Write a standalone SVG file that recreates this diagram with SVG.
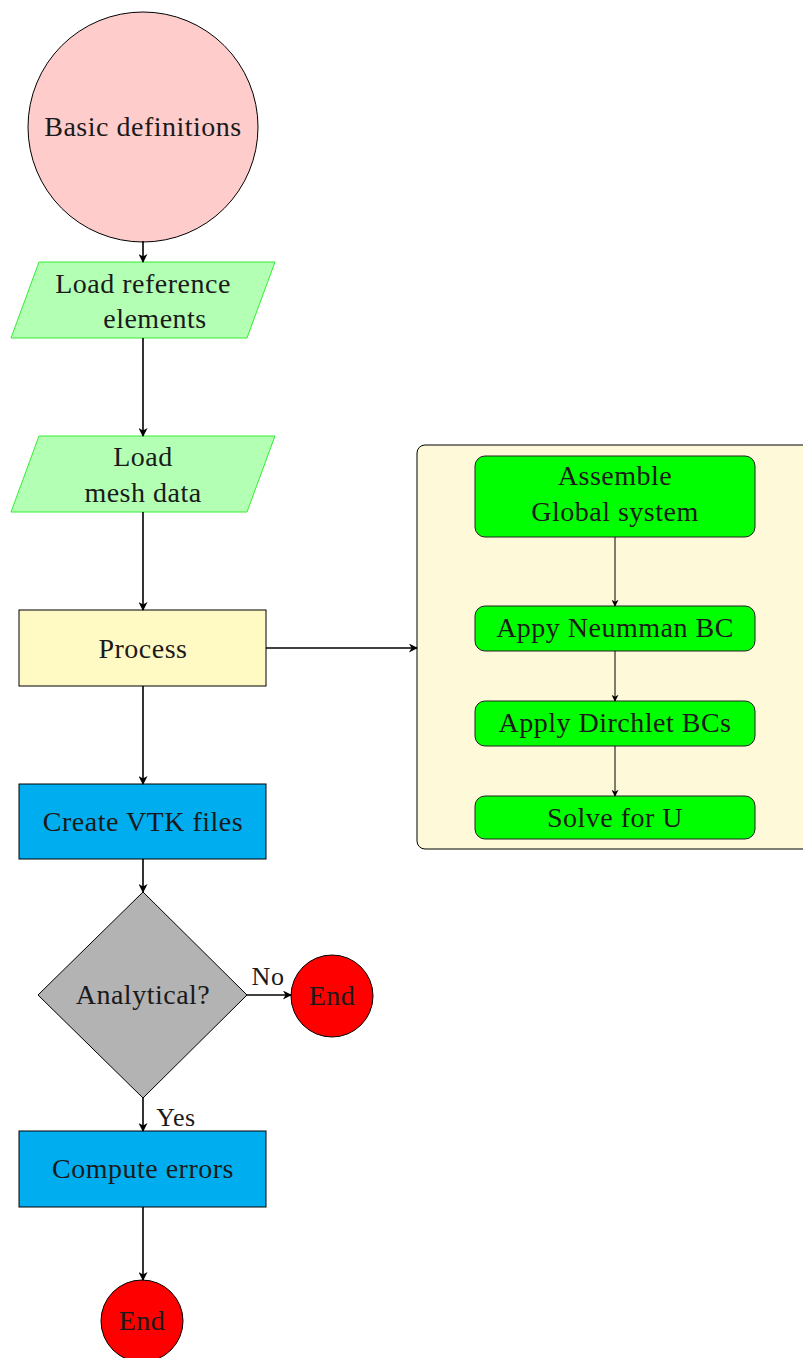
<svg xmlns="http://www.w3.org/2000/svg" width="803" height="1358" viewBox="0 0 803 1358">
<style>
text{font-family:"Liberation Serif","DejaVu Serif",serif;font-size:28px;letter-spacing:0.5px;fill:#1a1a1a;text-anchor:middle;}
.sm{font-size:26px;}
.blk{stroke:#000;stroke-width:1;}
.io{fill:#b3ffb3;stroke:#33ee33;stroke-width:1;}
.gr{fill:#00ff00;stroke:#222;stroke-width:1;}
.cn{stroke:#000;stroke-width:1.6;fill:none;marker-end:url(#ah);}
.cs{stroke:#000;stroke-width:1;fill:none;marker-end:url(#as);}
</style>
<defs>
<marker id="ah" viewBox="0 0 10 10" refX="9" refY="5" markerWidth="10" markerHeight="9" markerUnits="userSpaceOnUse" orient="auto"><path d="M0,0 L10,5 L0,10 L3,5 Z" fill="#000"/></marker>
<marker id="as" viewBox="0 0 10 10" refX="9" refY="5" markerWidth="8" markerHeight="7" markerUnits="userSpaceOnUse" orient="auto"><path d="M0,0 L10,5 L0,10 L3,5 Z" fill="#000"/></marker>
</defs>
<g id="basic"><circle cx="143" cy="127" r="115" fill="#ffcccc" class="blk"/><text x="143" y="136">Basic definitions</text></g>
<g id="loadref"><polygon class="io" points="39,262 275,262 247,338 11,338"/><text x="143" y="293">Load reference</text><text x="155" y="328">elements</text></g>
<g id="loadmesh"><polygon class="io" points="39,436 275,436 247,512 11,512"/><text x="143" y="466">Load</text><text x="143" y="502">mesh data</text></g>
<g id="process"><rect x="19" y="610" width="247" height="76" fill="#fff9c4" class="blk"/><text x="143" y="658">Process</text></g>
<g id="container"><rect x="417" y="445" width="400" height="404" rx="8" fill="#fef9d8" class="blk"/></g>
<g id="assemble"><rect x="475" y="456" width="280" height="81" rx="10" class="gr"/><text x="615" y="485">Assemble</text><text x="615" y="521">Global system</text></g>
<g id="neumann"><rect x="475" y="606" width="280" height="45" rx="10" class="gr"/><text x="615" y="637">Appy Neumman BC</text></g>
<g id="dirichlet"><rect x="475" y="701" width="280" height="45" rx="10" class="gr"/><text x="615" y="732">Apply Dirchlet BCs</text></g>
<g id="solve"><rect x="475" y="796" width="280" height="43" rx="10" class="gr"/><text x="615" y="827">Solve for U</text></g>
<g id="vtk"><rect x="19" y="784" width="247" height="75" fill="#00adef" class="blk"/><text x="143" y="831">Create VTK files</text></g>
<g id="analytical"><polygon points="143,892 247,995 143,1098 38,995" fill="#b3b3b3" class="blk"/><text x="143" y="1004">Analytical?</text></g>
<g id="end1"><circle cx="332" cy="996" r="41" fill="#ff0000" class="blk"/><text x="332" y="1005">End</text></g>
<g id="errors"><rect x="19" y="1131" width="247" height="76" fill="#00adef" class="blk"/><text x="143" y="1178">Compute errors</text></g>
<g id="end2"><circle cx="142" cy="1321" r="41" fill="#ff0000" class="blk"/><text x="142" y="1330">End</text></g>
<g id="connectors">
<path class="cn" d="M143,241 V262"/>
<path class="cn" d="M143,338 V436"/>
<path class="cn" d="M143,512 V610"/>
<path class="cn" d="M266,648 H417"/>
<path class="cn" d="M143,686 V784"/>
<path class="cn" d="M143,859 V892"/>
<path class="cn" d="M247,995 H291"/>
<path class="cn" d="M143,1098 V1131"/>
<path class="cn" d="M143,1207 V1280"/>
<path class="cs" d="M615,537 V606"/>
<path class="cs" d="M615,651 V701"/>
<path class="cs" d="M615,746 V796"/>
<text x="268" y="985" class="sm">No</text>
<text x="176" y="1126" class="sm">Yes</text>
</g>
</svg>
